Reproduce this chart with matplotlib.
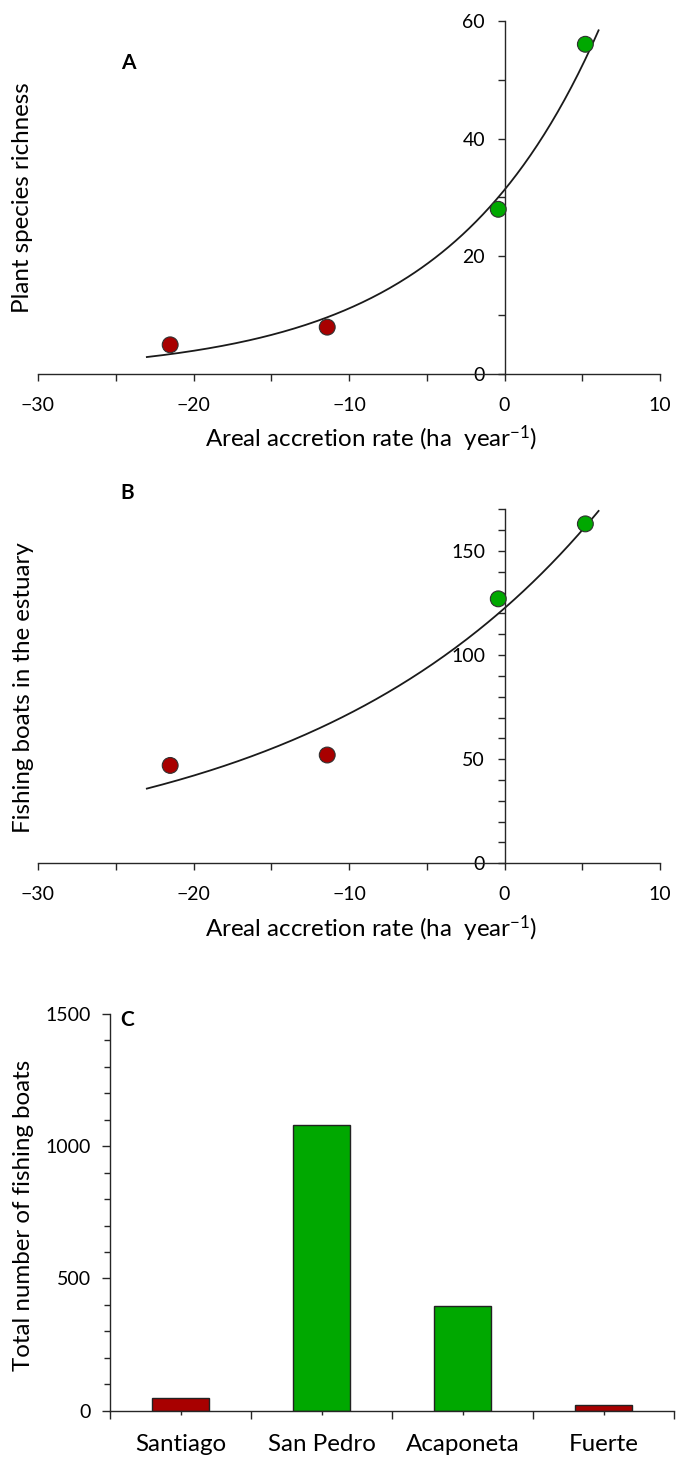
import numpy as np
import matplotlib
matplotlib.use("Agg")
import matplotlib.pyplot as plt
from matplotlib.ticker import MultipleLocator, FixedLocator, NullFormatter

plt.rcParams['font.family'] = ['Lato', 'DejaVu Sans']
plt.rcParams['mathtext.fontset'] = 'custom'
plt.rcParams['mathtext.rm'] = 'Lato'
plt.rcParams['mathtext.default'] = 'regular'

# data
accretion_rate = [-21.5, -11.4, -0.4, 5.2]
plant_richness = [5, 8, 28, 56]
fishing_boats = [47, 52, 127, 163]
point_colors = ['#A80000', '#A80000', '#00A800', '#00A800']

# exponential trendlines y = a*exp(b*x), coefficients
trend_x_range = (-23.0, 6.05)
trend_a_richness, trend_b_richness = 31.3, 0.103
trend_a_boats, trend_b_boats = 122.5, 0.0534

estuaries = ['Santiago', 'San Pedro', 'Acaponeta', 'Fuerte']
total_boats = [49, 1082, 397, 20]
bar_colors = ['#A80000', '#00A800', '#00A800', '#A80000']

W, H = 676, 1457
fig = plt.figure(figsize=(W / 100, H / 100), dpi=100)

ink = '#262626'
tick_fs = 14
label_fs = 17.4
letter_fs = 15


def px_rect(left, right, top, bottom):
    return [left / W, 1 - bottom / H, (right - left) / W, (bottom - top) / H]


def scatter_panel(rect, yvals, ylim, ymajor, yminor, a, b):
    ax = fig.add_axes(rect)
    ax.set_xlim(-30, 10)
    ax.set_ylim(*ylim)
    for s in ['top', 'right']:
        ax.spines[s].set_visible(False)
    ax.spines['left'].set_position(('data', 0))
    for s in ['left', 'bottom']:
        ax.spines[s].set_color(ink)
        ax.spines[s].set_linewidth(1.0)
    ax.xaxis.set_major_locator(MultipleLocator(10))
    ax.xaxis.set_minor_locator(MultipleLocator(5))
    ax.yaxis.set_major_locator(MultipleLocator(ymajor))
    ax.yaxis.set_minor_locator(MultipleLocator(yminor))
    ax.tick_params(axis='x', which='both', direction='out', length=5, width=1.0, color=ink,
                   labelsize=tick_fs, pad=11)
    ax.tick_params(axis='y', which='both', direction='out', length=5, width=1.0, color=ink,
                   labelsize=tick_fs, pad=9)
    ax.patch.set_alpha(0)

    xs = np.linspace(trend_x_range[0], trend_x_range[1], 200)
    ax.plot(xs, a * np.exp(b * xs), color='#1a1a1a', lw=1.3, zorder=2)
    ax.scatter(accretion_rate, yvals, s=130, c=point_colors, edgecolors='#303030',
               linewidths=0.8, zorder=3, clip_on=False)
    return ax


# Panel A
axA = scatter_panel(px_rect(38, 660, 20.7, 374.3), plant_richness, (0, 60), 20, 10,
                    trend_a_richness, trend_b_richness)
fig.text(23 / W, 1 - 197.5 / H, 'Plant species richness', rotation=90,
         ha='center', va='center', fontsize=label_fs)
fig.text(371 / W, 1 - 439 / H, 'Areal accretion rate (ha  year$^{-1}$)',
         ha='center', va='center', fontsize=label_fs)
fig.text(128.5 / W, 1 - 63 / H, 'A', ha='center', va='center', fontsize=letter_fs,
         fontweight='bold')

# Panel B
axB = scatter_panel(px_rect(38, 660, 509.3, 863.3), fishing_boats, (0, 170), 50, 10,
                    trend_a_boats, trend_b_boats)
fig.text(24 / W, 1 - 688 / H, 'Fishing boats in the estuary', rotation=90,
         ha='center', va='center', fontsize=label_fs)
fig.text(371 / W, 1 - 929 / H, 'Areal accretion rate (ha  year$^{-1}$)',
         ha='center', va='center', fontsize=label_fs)
fig.text(127 / W, 1 - 493 / H, 'B', ha='center', va='center', fontsize=letter_fs,
         fontweight='bold')

# Panel C
axC = fig.add_axes(px_rect(110, 674, 1014, 1410.7))
pos = np.arange(len(estuaries)) + 0.5
axC.bar(pos, total_boats, width=0.4, color=bar_colors, edgecolor='#222222', linewidth=1.0,
        zorder=2)
axC.set_xlim(0, len(estuaries))
axC.set_ylim(0, 1500)
for s in ['top', 'right']:
    axC.spines[s].set_visible(False)
for s in ['left', 'bottom']:
    axC.spines[s].set_color(ink)
    axC.spines[s].set_linewidth(1.0)
axC.xaxis.set_major_locator(FixedLocator(np.arange(len(estuaries) + 1)))
axC.xaxis.set_major_formatter(NullFormatter())
axC.xaxis.set_minor_locator(FixedLocator(pos))
axC.set_xticklabels(estuaries, minor=True)
axC.tick_params(axis='x', which='major', direction='out', length=6, width=1.0, color=ink)
axC.tick_params(axis='x', which='minor', direction='out', length=3, width=1.0, color=ink,
                labelsize=label_fs, pad=14)
axC.yaxis.set_major_locator(MultipleLocator(500))
axC.yaxis.set_minor_locator(MultipleLocator(100))
axC.tick_params(axis='y', which='major', direction='out', length=6, width=1.0, color=ink,
                labelsize=tick_fs, pad=8)
axC.tick_params(axis='y', which='minor', direction='out', length=4, width=1.0, color=ink)
fig.text(24 / W, 1 - 1215 / H, 'Total number of fishing boats', rotation=90,
         ha='center', va='center', fontsize=label_fs)
fig.text(127.5 / W, 1 - 1020 / H, 'C', ha='center', va='center', fontsize=letter_fs,
         fontweight='bold')

fig.savefig('out.png', dpi=100)
